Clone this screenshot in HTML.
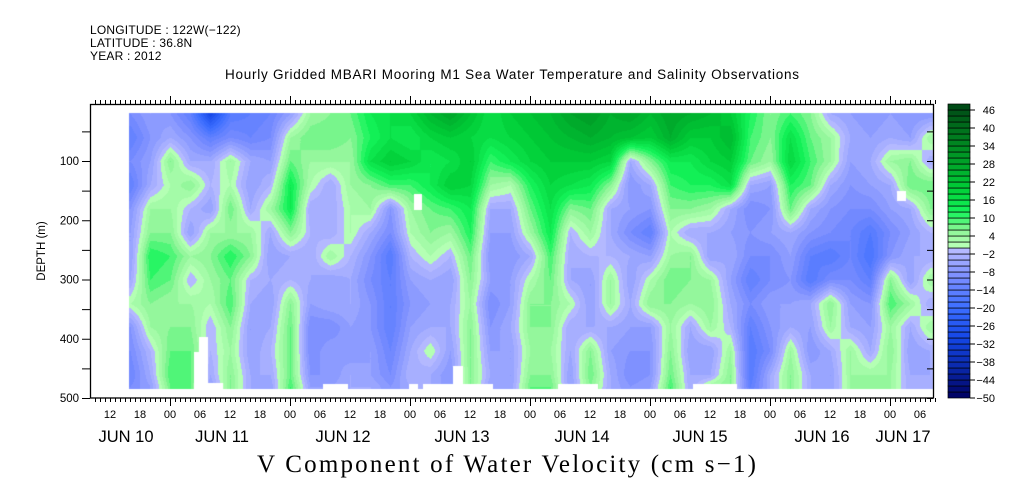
<!DOCTYPE html>
<html><head><meta charset="utf-8"><style>
body{margin:0;background:#fff;width:1009px;height:504px;overflow:hidden;position:relative;font-family:"Liberation Sans",sans-serif}
.t{position:absolute;white-space:nowrap;color:#000}
</style></head><body>
<div class="t" style="left:90px;top:23px;font-size:12px;letter-spacing:0.2px">LONGITUDE : 122W(−122)</div>
<div class="t" style="left:90px;top:36px;font-size:12px;letter-spacing:0.2px">LATITUDE : 36.8N</div>
<div class="t" style="left:90px;top:49px;font-size:12px;letter-spacing:0.2px">YEAR : 2012</div>
<div class="t" style="left:225px;top:67px;font-size:13.5px;letter-spacing:0.75px">Hourly Gridded MBARI Mooring M1 Sea Water Temperature and Salinity Observations</div>
<div class="t" style="left:257px;top:451px;font-size:25px;letter-spacing:2.2px;font-family:'Liberation Serif',serif">V Component of Water Velocity (cm s−1)</div>
<canvas id="cv" width="1009" height="504" style="position:absolute;left:0;top:0"></canvas>
<svg id="sv" width="1009" height="504" style="position:absolute;left:0;top:0"></svg>
<script>
const depths=[20,60,100,140,180,220,260,300,340,380,420,460,480];
const hours=[16,20,24,28,32,36,40,44,48,52,56,60,64,68,72,76,80,84,88,92,96,100,104,108,112,116,120,124,128,132,136,140,144,148,152,156,160,164,168,172,176];
const values=[
[-10,-14,-10,-14,-8,-6,-6,-4,2,-8,-10,-12,-10],
[-6,-8,-6,-4,4,6,12,10,6,4,-2,-4,-6],
[-8,-4,6,2,4,6,10,8,4,6,8,10,8],
[-14,-8,-4,6,-2,-6,4,-2,4,6,8,8,8],
[-30,-14,-4,-2,-6,4,6,4,2,-2,-2,-4,-6],
[-16,-10,4,2,8,4,12,8,10,6,4,6,6],
[-14,-12,-4,-6,-4,4,6,-2,-4,-6,-6,-4,-4],
[-12,-10,-6,-2,4,-4,-6,-4,-6,-4,-2,-4,-6],
[-6,4,8,14,14,6,-4,-2,6,8,8,8,10],
[4,8,4,2,-4,-2,-4,-4,-6,-10,-10,-8,-6],
[6,8,4,-4,-4,-4,4,-6,-4,-10,-6,-8,-6],
[8,6,4,4,2,2,-2,-4,-4,-6,-8,-4,-4],
[14,12,16,6,4,-4,-8,-10,-8,-8,-6,-6,-4],
[16,16,20,10,-8,-10,-16,-14,-14,-14,-12,-10,-8],
[18,14,18,10,4,2,-2,-6,-8,-6,-4,-2,-4],
[24,18,14,14,8,6,2,-4,-6,-4,2,-4,-4],
[28,20,16,20,10,4,-2,-6,-4,-4,-6,-8,-8],
[22,18,20,18,14,12,8,6,4,6,6,6,6],
[16,16,10,4,-4,-6,-8,-6,-10,-8,-6,-4,-6],
[20,18,14,2,-4,-6,-8,-6,-6,-4,-6,-6,-6],
[22,20,18,12,8,4,-4,2,6,6,4,6,8],
[24,22,20,18,16,14,10,8,6,6,4,6,8],
[28,24,20,16,6,-2,-4,-4,2,-4,-4,-6,-6],
[30,26,20,14,8,4,-2,-6,-6,-4,6,8,6],
[26,24,18,6,-4,-4,-2,4,4,-4,-6,-4,-4],
[28,22,-4,-8,-6,-10,-4,-6,-4,-6,-8,-10,-8],
[24,20,6,-4,-8,-14,-6,2,6,-6,-8,-8,-6],
[28,26,14,10,6,2,4,8,6,4,6,8,10],
[26,20,14,12,6,-4,6,6,4,-4,-6,-4,-4],
[24,20,18,12,4,-4,-6,4,6,4,-6,-4,4],
[20,24,20,16,-4,-6,-4,-6,-4,-2,4,6,6],
[12,10,8,-4,-10,-8,-10,-14,-10,-14,-16,-16,-14],
[6,6,4,-6,-8,-6,-10,-10,-6,-8,-10,-4,-4],
[10,16,18,12,8,-4,-6,-8,-6,-4,4,6,6],
[6,8,10,8,-4,-8,-14,-16,-4,-6,-8,-4,-4],
[-4,4,4,-4,-8,-10,-16,-10,6,4,-4,-6,-6],
[-6,-4,-6,-8,-10,-12,-12,-10,-6,-4,4,4,4],
[-8,-6,-4,-6,-10,-16,-18,-14,-8,-6,-4,4,4],
[-6,-4,4,-4,-6,-10,-8,6,10,4,6,4,4],
[-8,-6,6,8,-4,-6,-4,-6,4,-4,-6,-4,-4],
[-8,4,-4,8,6,-2,-4,4,-4,4,-4,-4,-4]];
const gapX0=[194,199,208,323,409,423,453,558,693,414,897];
const gapX1=[208,208,223,348,418,493,463,598,737,422,906];
const gapY0=[352,337,383,384,384,384,366,384,384,194,191];
const gapY1=[390,352,390,390,390,390,390,390,390,210,201];
const cbLevels=[-50,-48,-46,-44,-42,-40,-38,-36,-34,-32,-30,-28,-26,-24,-22,-20,-18,-16,-14,-12,-10,-8,-6,-4,-2,0,2,4,6,8,10,12,14,16,18,20,22,24,26,28,30,32,34,36,38,40,42,44,46,48];
const cbLabels=[-50,-44,-38,-32,-26,-20,-14,-8,-2,4,10,16,22,28,34,40,46];
const depthTicks=[100,200,300,400,500];
const hourLabels=['12','18','00','06','12','18','00','06','12','18','00','06','12','18','00','06','12','18','00','06','12','18','00','06','12','18','00','06'];
const dayLabels=['JUN 10','JUN 11','JUN 12','JUN 13','JUN 14','JUN 15','JUN 16','JUN 17'];
const dayLabelHours=[15.2,34.4,58.6,82.4,106.4,130,154.4,170.6];

const X=h=>170+(h-24)*5;
const Y=d=>101.75+d*0.5925;
const anchors=[[-50,[0,0,95]],[-40,[10,40,170]],[-30,[20,70,230]],[-20,[60,110,255]],[-10,[120,140,255]],[-1,[180,185,255]],[1,[180,255,180]],[6,[140,245,150]],[12,[20,245,90]],[20,[0,205,55]],[30,[0,155,38]],[40,[0,110,28]],[49,[0,65,20]]];
function col(v){
  let q=Math.floor(v/2)*2+1; q=Math.max(-49,Math.min(47,q));
  for(let i=0;i<anchors.length-1;i++){const a=anchors[i],b=anchors[i+1];
    if(q<=b[0]){const f=Math.max(0,(q-a[0])/(b[0]-a[0]));return a[1].map((c,k)=>Math.round(c+(b[1][k]-c)*f));}}
  return anchors[anchors.length-1][1];
}
const cv=document.getElementById('cv'),ctx=cv.getContext('2d');
const img=ctx.createImageData(1009,504);
const x0=129,x1=933,y0=113,y1=389;
function interp(arr,v){let i=0;while(i<arr.length-2&&v>arr[i+1])i++;let f=(v-arr[i])/(arr[i+1]-arr[i]);return [i,Math.max(0,Math.min(1,f))];}
for(let y=y0;y<y1;y++){const d=(y-101.75)/0.5925;const [j,fy]=interp(depths,d);
 for(let x=x0;x<x1;x++){const h=(x-50)/5;const [i,fx]=interp(hours,h);
  const v=(values[i][j]*(1-fx)+values[i+1][j]*fx)*(1-fy)+(values[i][j+1]*(1-fx)+values[i+1][j+1]*fx)*fy;
  const c=col(v);const p=(y*1009+x)*4;img.data[p]=c[0];img.data[p+1]=c[1];img.data[p+2]=c[2];img.data[p+3]=255;}}
ctx.putImageData(img,0,0);
ctx.fillStyle='#fff';
for(let k=0;k<gapX0.length;k++)ctx.fillRect(gapX0[k],gapY0[k],gapX1[k]-gapX0[k],gapY1[k]-gapY0[k]);
const sv=document.getElementById('sv');const NS='http://www.w3.org/2000/svg';
function add(tag,at,txt){const e=document.createElementNS(NS,tag);for(const k in at)e.setAttribute(k,at[k]);if(txt!==undefined)e.textContent=txt;sv.appendChild(e);return e;}
let fr=add('rect',{x:90.5,y:104.5,width:843,height:293.5,fill:'none',stroke:'#000','stroke-width':1.3});


let path='';
for(let h=9;h<=177;h++){const x=X(h)+0.5;const major=(h%24===0);
 path+=`M${x} 104V${major?96:100}M${x} 398V${major?406:402}`;}
for(let d=50;d<=500;d+=50){const y=Y(d)+0.5;path+=`M90 ${y}H82M933 ${y}H927`;}
let tk=add('path',{d:path,stroke:'#000','stroke-width':1,fill:'none'});


depthTicks.forEach(d=>{let t=add('text',{x:79,y:Y(d)+4,'text-anchor':'end','font-size':11.5,'font-family':'Liberation Sans'},d);
 
 });
let yt=add('text',{x:45,y:251,'text-anchor':'middle','font-size':11.5,'font-family':'Liberation Sans',transform:'rotate(-90 45 251)'},'DEPTH (m)');


hourLabels.forEach((l,k)=>{let t=add('text',{x:X(12+6*k),y:418,'text-anchor':'middle','font-size':11,'font-family':'Liberation Sans'},l);
 
 });
dayLabels.forEach((l,k)=>{let t=add('text',{x:X(dayLabelHours[k]),y:442,'text-anchor':'middle','font-size':16.5,'font-family':'Liberation Sans'},l);
 
 });
const cbTop=104,cbBot=398,cbN=cbLevels.length-1,bh=(cbBot-cbTop)/cbN;
for(let k=0;k<cbN;k++){const c=col(cbLevels[k]+1);
 let r=add('rect',{x:948,y:cbBot-(k+1)*bh,width:22,height:bh,fill:`rgb(${c})`,stroke:'#000','stroke-width':0.7});
 
 }
cbLabels.forEach(v=>{const y=cbBot-(v-cbLevels[0])/2*bh;
 let t=add('text',{x:995,y:y+4,'text-anchor':'end','font-size':11,'font-family':'Liberation Sans'},v<0?'−'+(-v):v);
 
 
 add('path',{d:`M970 ${y}H975`,stroke:'#000'});});
</script>
</body></html>
